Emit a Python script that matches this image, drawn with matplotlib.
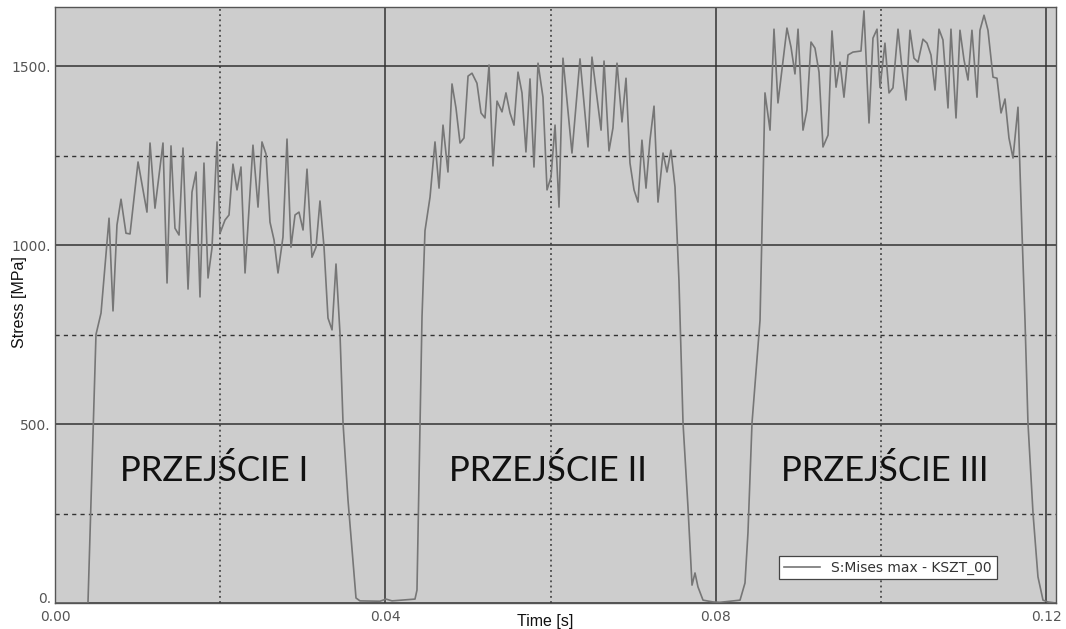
import matplotlib
matplotlib.use("Agg")
import matplotlib.pyplot as plt
import matplotlib.transforms as mtransforms
import numpy as np

# max von Mises stress over time, three rolling passes
time_s = [
    0.0, 0.00399, 0.00496, 0.00557, 0.00654, 0.00702, 0.00750, 0.00799, 0.00859, 0.00908,
    0.01005, 0.01113, 0.01150, 0.01210, 0.01307, 0.01356, 0.01404, 0.01452, 0.01501, 0.01549,
    0.01610, 0.01658, 0.01707, 0.01755, 0.01803, 0.01852, 0.01900, 0.01961, 0.01997, 0.02058,
    0.02106, 0.02154, 0.02203, 0.02251, 0.02300, 0.02396, 0.02457, 0.02505, 0.02554, 0.02602,
    0.02651, 0.02699, 0.02759, 0.02808, 0.02856, 0.02905, 0.02953, 0.03002, 0.03050, 0.03110,
    0.03159, 0.03207, 0.03256, 0.03304, 0.03353, 0.03401, 0.03449, 0.03486, 0.03546, 0.03643,
    0.03691, 0.03933, 0.04006, 0.04079, 0.04357, 0.04381, 0.04442, 0.04478,
    0.04539, 0.04599, 0.04648, 0.04696, 0.04756, 0.04805, 0.04853, 0.04902, 0.04950, 0.04999,
    0.05047, 0.05107, 0.05156, 0.05204, 0.05253, 0.05301, 0.05350, 0.05410, 0.05458, 0.05507,
    0.05555, 0.05604, 0.05652, 0.05700, 0.05749, 0.05797, 0.05846, 0.05906, 0.05955, 0.06003,
    0.06052, 0.06100, 0.06148, 0.06257, 0.06354, 0.06451, 0.06499, 0.06609, 0.06645, 0.06705,
    0.06753, 0.06802, 0.06862, 0.06911, 0.06959, 0.07008, 0.07056, 0.07104, 0.07153, 0.07201,
    0.07250, 0.07298, 0.07359, 0.07407, 0.07455, 0.07504, 0.07552, 0.07601, 0.07661, 0.07710,
    0.07746, 0.07782, 0.07843, 0.07964, 0.08048, 0.08291, 0.08351, 0.08387, 0.08436, 0.08496,
    0.08533, 0.08593, 0.08654, 0.08702, 0.08750, 0.08859, 0.08908, 0.08956, 0.08993, 0.09053,
    0.09101, 0.09150, 0.09198, 0.09247, 0.09295, 0.09356, 0.09404, 0.09453, 0.09501, 0.09549,
    0.09598, 0.09658, 0.09755, 0.09791, 0.09852, 0.09900, 0.09949, 0.09985, 0.10045, 0.10094,
    0.10142, 0.10203, 0.10251, 0.10300, 0.10348, 0.10396, 0.10445, 0.10505, 0.10554, 0.10602,
    0.10651, 0.10699, 0.10747, 0.10808, 0.10844, 0.10905, 0.10953, 0.11002, 0.11050, 0.11098,
    0.11159, 0.11195, 0.11244, 0.11292, 0.11353, 0.11401, 0.11450, 0.11498, 0.11546, 0.11595,
    0.11655, 0.11704, 0.11740, 0.11776, 0.11837, 0.11897, 0.11958, 0.12018, 0.12115,
]
stress_mpa = [
    0, 0, 750, 810, 1075, 816, 1056, 1128, 1033, 1031,
    1232, 1092, 1285, 1103, 1285, 894, 1277, 1047, 1028, 1271,
    877, 1148, 1204, 855, 1229, 908, 992, 1288, 1033, 1070,
    1084, 1226, 1154, 1218, 922, 1279, 1106, 1288, 1254, 1064,
    1014, 922, 1022, 1296, 994, 1084, 1092, 1042, 1212, 966,
    994, 1123, 994, 796, 763, 947, 754, 503, 288, 14,
    6, 5, 11, 6, 11, 36, 800, 1040,
    1134, 1288, 1159, 1335, 1204, 1450, 1383, 1285, 1299, 1472,
    1480, 1452, 1369, 1355, 1503, 1221, 1402, 1372, 1425, 1369,
    1335, 1483, 1425, 1260, 1464, 1218, 1508, 1413, 1154, 1190,
    1335, 1106, 1522, 1257, 1520, 1274, 1525, 1321, 1514, 1263,
    1327, 1508, 1344, 1466, 1229, 1154, 1120, 1293, 1159, 1293,
    1388, 1120, 1257, 1204, 1265, 1162, 900, 503, 268, 50,
    84, 45, 8, 3, 2, 8, 56, 196, 503, 679,
    790, 1425, 1321, 1603, 1397, 1606, 1553, 1478, 1603, 1321,
    1377, 1567, 1550, 1483, 1274, 1307, 1598, 1441, 1511, 1413,
    1531, 1539, 1542, 1654, 1341, 1578, 1603, 1440, 1564, 1425,
    1439, 1603, 1494, 1405, 1600, 1522, 1511, 1575, 1564, 1531,
    1433, 1603, 1573, 1383, 1603, 1355, 1600, 1517, 1461, 1600,
    1413, 1600, 1642, 1600, 1469, 1466, 1369, 1408, 1299, 1243,
    1385, 1033, 790, 503, 251, 73, 8, 3, 0,
]

x_major = [0.0, 0.04, 0.08, 0.12]
x_major_labels = ["0.00", "0.04", "0.08", "0.12"]
x_minor = [0.02, 0.06, 0.10]
y_major = [0, 500, 1000, 1500]
y_major_labels = ["0.", "500.", "1000.", "1500."]
y_minor = [250, 750, 1250]

pass_labels = ["PRZEJŚCIE I", "PRZEJŚCIE II", "PRZEJŚCIE III"]
pass_label_x = [0.0193, 0.0597, 0.1004]
pass_label_y = 371

fig = plt.figure(figsize=(10.66, 6.29), dpi=100)
ax = fig.add_axes([0.0516, 0.0413, 0.9390, 0.9476])
ax.set_facecolor("#cdcdcd")

ax.plot(time_s, stress_mpa, color="#767676", lw=1.2, label="S:Mises max - KSZT_00")

ax.set_xlim(0, 0.12115)
ax.set_ylim(0, 1665)

ax.set_xticks(x_major)
ax.set_xticklabels(x_major_labels)
ax.set_xticks(x_minor, minor=True)
ax.set_yticks(y_major)
ax.set_yticklabels(y_major_labels)
ax.set_yticks(y_minor, minor=True)

ax.grid(which="major", color="#333333", lw=1.1, ls="-")
ax.grid(which="minor", axis="x", color="#333333", lw=1.1, ls=(0, (1.2, 2.2)))
ax.grid(which="minor", axis="y", color="#333333", lw=1.0, ls=(0, (3, 3)))
ax.set_axisbelow(True)

ax.tick_params(which="both", length=0, labelsize=10, labelcolor="#555555")
ax.tick_params(axis="x", pad=5)
ax.tick_params(axis="y", pad=3)
for s in ax.spines.values():
    s.set_color("#555555")
    s.set_linewidth(1.0)

# lift the "0." label so it clears the "0.00" below it
ylabels = ax.get_yticklabels()
ylabels[0].set_transform(ylabels[0].get_transform() +
                         mtransforms.ScaledTranslation(0, 4 / 72, fig.dpi_scale_trans))

# axis titles sit close to the frame, level with the tick labels
ax.set_xlabel("Time [s]", fontsize=11.5, family="Liberation Sans", color="#111111")
ax.xaxis.set_label_coords(0.49, -0.018)
ax.xaxis.label.set_va("top")
ax.set_ylabel("Stress [MPa]", fontsize=11.5, family="Liberation Sans", color="#111111")
ax.yaxis.set_label_coords(-0.035, 0.505)
ax.yaxis.label.set_va("center")

for txt, tx in zip(pass_labels, pass_label_x):
    ax.text(tx, pass_label_y, txt, fontsize=25, family="Lato", color="#111111",
            ha="center", va="center")

leg = ax.legend(loc="lower right", bbox_to_anchor=(0.948, 0.028), fontsize=10,
                fancybox=False, framealpha=1, edgecolor="#444444",
                handlelength=2.6, borderpad=0.35)
leg.get_frame().set_linewidth(0.9)
for t in leg.get_texts():
    t.set_color("#333333")

fig.savefig("out.png", dpi=100, facecolor="white")
